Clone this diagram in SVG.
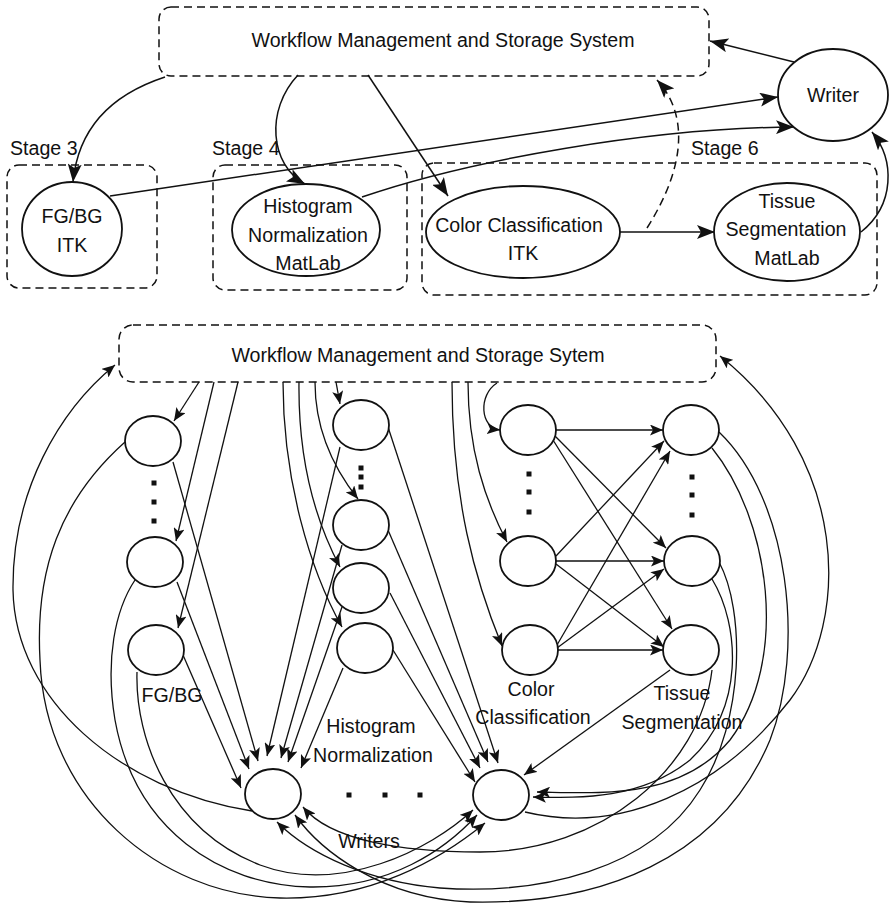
<svg xmlns="http://www.w3.org/2000/svg" width="891" height="907" viewBox="0 0 891 907">
<style>
.t{font-family:"Liberation Sans",Arial,sans-serif;font-size:19.6px;fill:#111;text-anchor:middle}
.ts{text-anchor:start}
.box{fill:none;stroke:#111;stroke-width:1.5;stroke-dasharray:8 5}
.nd{fill:#fff;stroke:#111;stroke-width:1.8}
.c1{fill:none;stroke:#111;stroke-width:1.5;marker-end:url(#aT)}
.c2{fill:none;stroke:#111;stroke-width:1.3;marker-end:url(#aB)}
.dash{stroke-dasharray:8 5}
.dot{fill:#111}
</style>
<defs>
<marker id="aT" viewBox="0 0 18 14" refX="18" refY="7" markerWidth="18" markerHeight="14" markerUnits="userSpaceOnUse" orient="auto"><path d="M0,0 L18,7 L0,14 L4,7 z" fill="#111"/></marker>
<marker id="aB" viewBox="0 0 13 11" refX="13" refY="5.5" markerWidth="13" markerHeight="11" markerUnits="userSpaceOnUse" orient="auto"><path d="M0,0 L13,5.5 L0,11 L3,5.5 z" fill="#111"/></marker>
</defs>

<!-- ===== TOP DIAGRAM ===== -->
<g id="stage-boxes">
<rect class="box" x="7" y="165" width="150" height="123" rx="12"/>
<text class="t ts" x="10" y="155">Stage 3</text>
<rect class="box" x="213" y="165" width="194" height="125" rx="12"/>
<text class="t ts" x="212" y="155">Stage 4</text>
<rect class="box" x="422" y="163" width="455" height="132" rx="12"/>
<text class="t ts" x="691" y="155">Stage 6</text>
</g>

<g id="top-connectors">
<path class="c1" d="M165,77 C110,95 78,130 73,182"/>
<path class="c1" d="M298,75 C265,110 270,165 305,184"/>
<path class="c1" d="M368,75 L448,196"/>
<path class="c1" d="M110,196 L778,97"/>
<path class="c1" d="M362,197 C470,160 650,128 794,127"/>
<path class="c1" d="M620,232 L715,232"/>
<path class="c1 dash" d="M647,228 C690,160 685,110 657,80"/>
<path class="c1" d="M861,232 C895,205 895,160 872,132"/>
<path class="c1" d="M794,62 L710,41"/>
</g>

<g id="wmss-top">
<rect class="box" x="159" y="7" width="550" height="69" rx="12"/>
<text class="t" x="443" y="47">Workflow Management and Storage System</text>
</g>
<g id="fgbg-top">
<ellipse class="nd" cx="72" cy="229" rx="50" ry="47"/>
<text class="t" x="72" y="223">FG/BG</text>
<text class="t" x="72" y="252">ITK</text>
</g>
<g id="hist-top">
<ellipse class="nd" cx="306" cy="230" rx="74" ry="46"/>
<text class="t" x="308" y="213">Histogram</text>
<text class="t" x="308" y="242">Normalization</text>
<text class="t" x="308" y="270">MatLab</text>
</g>
<g id="color-top">
<ellipse class="nd" cx="523" cy="232" rx="97" ry="46"/>
<text class="t" x="519" y="232">Color Classification</text>
<text class="t" x="523" y="260">ITK</text>
</g>
<g id="tissue-top">
<ellipse class="nd" cx="787" cy="232" rx="73" ry="49"/>
<text class="t" x="787" y="208">Tissue</text>
<text class="t" x="786" y="236">Segmentation</text>
<text class="t" x="787" y="265">MatLab</text>
</g>
<g id="writer-top">
<ellipse class="nd" cx="833" cy="95" rx="55" ry="46"/>
<text class="t" x="833" y="102">Writer</text>
</g>

<!-- ===== BOTTOM DIAGRAM ===== -->
<g id="bottom-connectors">
<!-- WMSS to FG/BG -->
<path class="c2" d="M199,382 L174,421"/>
<path class="c2" d="M214,382 L176,541"/>
<path class="c2" d="M238,382 L178,628"/>
<!-- WMSS to Histogram -->
<path class="c2" d="M336,382 L340,404"/>
<path class="c2" d="M315,382 C315,430 335,470 358,499"/>
<path class="c2" d="M299,382 C298,460 315,520 340,567"/>
<path class="c2" d="M283,382 C283,480 310,570 342,627"/>
<!-- WMSS to Color -->
<path class="c2" d="M497,383 C478,395 480,428 500,430"/>
<path class="c2" d="M468,382 C468,450 485,500 507,542"/>
<path class="c2" d="M452,382 C452,500 475,580 502,646"/>
<!-- Color to Tissue -->
<path class="c2" d="M556,430 L663,430"/>
<path class="c2" d="M555,436 L666,548"/>
<path class="c2" d="M553,440 L672,629"/>
<path class="c2" d="M556,556 L664,441"/>
<path class="c2" d="M556,561 L664,561"/>
<path class="c2" d="M556,564 L664,647"/>
<path class="c2" d="M557,645 L670,451"/>
<path class="c2" d="M557,648 L664,569"/>
<path class="c2" d="M558,650 L663,650"/>
<!-- FG/BG to Writer 1 -->
<path class="c2" d="M173,462 L258,761"/>
<path class="c2" d="M177,582 L249,769"/>
<path class="c2" d="M183,655 L241,788"/>
<!-- Histogram to Writer 1 -->
<path class="c2" d="M340,447 L267,756"/>
<path class="c2" d="M342,545 L281,758"/>
<path class="c2" d="M342,607 L288,762"/>
<path class="c2" d="M343,668 L301,768"/>
<!-- Histogram to Writer 2 -->
<path class="c2" d="M388,427 L498,763"/>
<path class="c2" d="M388,530 L488,762"/>
<path class="c2" d="M390,593 L480,768"/>
<path class="c2" d="M393,650 L475,782"/>
<!-- FG/BG loops to Writer 2 -->
<path class="c2" d="M125,442 C60,500 35,570 40,660 C45,800 160,895 280,898 C370,900 440,860 485,823"/>
<path class="c2" d="M135,580 C115,610 105,660 115,720 C135,830 220,885 310,887 C390,888 445,850 477,815"/>
<path class="c2" d="M137,672 C135,740 170,830 260,865 C340,895 430,850 473,810"/>
<!-- Tissue to Writers -->
<path class="c2" d="M670,670 L524,775"/>
<path class="c2" d="M712,670 C700,770 600,852 480,852 C400,852 330,840 303,807"/>
<path class="c2" d="M719,432 C790,500 805,650 770,740 C720,860 600,905 470,902 C380,898 320,850 295,815"/>
<path class="c2" d="M719,562 C745,610 745,720 700,790 C650,870 540,895 440,888 C370,882 310,855 277,822"/>
<path class="c2" d="M712,448 C770,520 790,660 730,740 C680,800 600,793 537,792"/>
<path class="c2" d="M712,579 C740,625 745,710 690,760 C640,800 580,798 533,797"/>
<!-- Writers to WMSS -->
<path class="c2" d="M252,811 C120,790 15,700 13,590 C12,490 60,410 115,365"/>
<path class="c2" d="M525,812 C620,835 720,790 790,700 C850,620 850,460 720,356"/>
</g>

<g id="wmss-bottom">
<rect class="box" x="119" y="325" width="597" height="57" rx="14"/>
<text class="t" x="418" y="362">Workflow Management and Storage Sytem</text>
</g>

<g id="fgbg-1"><ellipse class="nd" cx="153" cy="441" rx="28" ry="25"/></g>
<g id="fgbg-2"><ellipse class="nd" cx="155" cy="562" rx="28" ry="25"/></g>
<g id="fgbg-3"><ellipse class="nd" cx="156" cy="650" rx="28" ry="25"/></g>
<g id="hist-1"><ellipse class="nd" cx="361" cy="425" rx="28" ry="25"/></g>
<g id="hist-2"><ellipse class="nd" cx="361" cy="525" rx="28" ry="25"/></g>
<g id="hist-3"><ellipse class="nd" cx="361" cy="588" rx="28" ry="25"/></g>
<g id="hist-4"><ellipse class="nd" cx="365" cy="648" rx="28" ry="25"/></g>
<g id="color-1"><ellipse class="nd" cx="528" cy="430" rx="28" ry="25"/></g>
<g id="color-2"><ellipse class="nd" cx="528" cy="561" rx="28" ry="25"/></g>
<g id="color-3"><ellipse class="nd" cx="530" cy="650" rx="28" ry="25"/></g>
<g id="tissue-1"><ellipse class="nd" cx="691" cy="430" rx="28" ry="25"/></g>
<g id="tissue-2"><ellipse class="nd" cx="692" cy="561" rx="28" ry="25"/></g>
<g id="tissue-3"><ellipse class="nd" cx="691" cy="650" rx="28" ry="25"/></g>
<g id="writer-1"><ellipse class="nd" cx="273" cy="794" rx="28" ry="25"/></g>
<g id="writer-2"><ellipse class="nd" cx="501" cy="795" rx="28" ry="25"/></g>

<g id="ellipsis-dots">
<rect class="dot" x="151.5" y="480.5" width="5" height="5"/>
<rect class="dot" x="151.5" y="499.5" width="5" height="5"/>
<rect class="dot" x="151.5" y="518.5" width="5" height="5"/>
<rect class="dot" x="358.5" y="465.5" width="5" height="5"/>
<rect class="dot" x="358.5" y="474.5" width="5" height="5"/>
<rect class="dot" x="358.5" y="484.5" width="5" height="5"/>
<rect class="dot" x="526.5" y="471.5" width="5" height="5"/>
<rect class="dot" x="526.5" y="489.5" width="5" height="5"/>
<rect class="dot" x="526.5" y="509.5" width="5" height="5"/>
<rect class="dot" x="689.5" y="474.5" width="5" height="5"/>
<rect class="dot" x="689.5" y="492.5" width="5" height="5"/>
<rect class="dot" x="689.5" y="512.5" width="5" height="5"/>
<rect class="dot" x="346.5" y="792.5" width="5" height="5"/>
<rect class="dot" x="382.5" y="792.5" width="5" height="5"/>
<rect class="dot" x="417.5" y="792.5" width="5" height="5"/>
</g>

<g id="column-labels">
<text class="t" x="172" y="702">FG/BG</text>
<text class="t" x="371" y="733">Histogram</text>
<text class="t" x="373" y="762">Normalization</text>
<text class="t" x="531" y="696">Color</text>
<text class="t" x="533" y="724">Classification</text>
<text class="t" x="682" y="700">Tissue</text>
<text class="t" x="682" y="729">Segmentation</text>
<text class="t" x="369" y="848">Writers</text>
</g>
</svg>
